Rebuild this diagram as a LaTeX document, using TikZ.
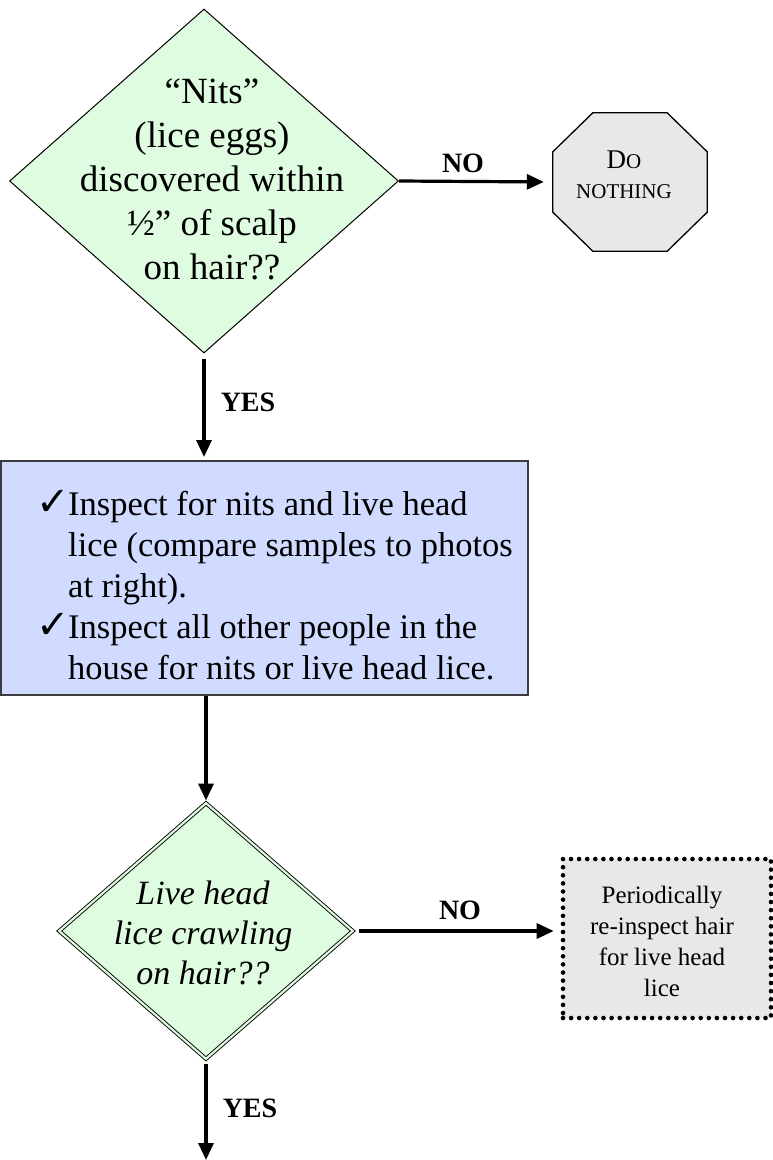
\documentclass[tikz,border=0pt]{standalone}
\usepackage{fontspec}
\setmainfont{Liberation Serif}
\newfontfamily\dejavu{DejaVu Sans}
\usetikzlibrary{shapes.geometric,arrows.meta}
\definecolor{dgreen}{RGB}{224,252,224}
\definecolor{lblue}{RGB}{208,219,255}
\definecolor{lgray}{RGB}{232,232,232}
\definecolor{bordgray}{RGB}{60,60,60}
\newcommand\ckm{\makebox[30pt][l]{\hspace*{-2pt}\dejavu\fontsize{40}{40}\selectfont ✓}}
\newcommand\indt{\hspace*{30pt}}
\tikzset{
  decision/.style={diamond, draw=black, line width=1pt, fill=dgreen, inner sep=0pt},
  decision2/.style={diamond, draw=black, line width=0.9pt, double=dgreen, double distance=2.2pt, fill=dgreen, inner sep=0pt},
  octframe/.style={rectangle, inner sep=0pt},
  octline/.style={draw=black, line width=1.3pt, fill=lgray, line join=miter},
  bluebox/.style={rectangle, draw=bordgray, line width=2pt, fill=lblue, inner sep=0pt},
  dotbox/.style={rectangle, draw=black, line width=4.6pt, line cap=round, dash pattern=on 0pt off 8.1pt, fill=lgray, inner sep=0pt},
  flow/.style={line width=3.2pt, -{Triangle[length=17pt,width=15pt]}},
  lbl/.style={font=\fontsize{28}{30}\selectfont\bfseries, inner sep=0pt},
  qtext/.style={align=center, inner sep=0pt}
}
\begin{document}
\begin{tikzpicture}[x=1pt,y=-1pt]
\useasboundingbox (0,0) rectangle (773,1160);

% first decision
\node[decision, minimum width=389pt, minimum height=344pt] (d1) at (204,181) {};
\node[qtext, font=\fontsize{37}{44}\selectfont] (d1t) at (212,179)
  {“Nits”\\(lice eggs)\\discovered within\\½” of scalp\\on hair??};

% do nothing octagon
\node[octframe, minimum width=154pt, minimum height=138pt] (oct) at (630,182) {};
\path[octline] ([xshift=40pt]oct.north west) -- ([xshift=-40pt]oct.north east)
  -- ([yshift=-39pt]oct.north east) -- ([yshift=39pt]oct.south east)
  -- ([xshift=-40pt]oct.south east) -- ([xshift=40pt]oct.south west)
  -- ([yshift=39pt]oct.south west) -- ([yshift=-39pt]oct.north west) -- cycle;
\node[qtext, font=\fontsize{21}{30}\selectfont] (octt) at (624,175)
  {{\fontsize{27}{30}\selectfont D}O\\NOTHING};

\draw[flow, shorten >=9pt] (d1.east) -- (oct.west);
\node[lbl] (no1) at (463,163) {NO};

% blue box
\node[bluebox, minimum width=527pt, minimum height=234pt] (box) at (264.5,578) {};
\node[anchor=west, align=left, inner sep=0pt, font=\fontsize{34.5}{41}\selectfont] (boxt) at (38,585)
  {\ckm Inspect for nits and live head\\
   \indt lice (compare samples to photos\\
   \indt at right).\\
   \ckm Inspect all other people in the\\
   \indt house for nits or live head lice.};

\draw[flow, shorten <=5pt, shorten >=3pt] (d1.south) -- (d1.south |- box.north);
\node[lbl] (yes1) at (248,402) {YES};

% second decision
\node[decision2, minimum width=294pt, minimum height=256pt] (d2) at (206,931) {};
\node[qtext, font=\fontsize{34}{40}\selectfont\itshape] (d2t) at (203,933)
  {Live head\\lice crawling\\on hair??};

\draw[flow, shorten >=2pt] (box.south -| d2.north) -- (d2.north);

% dotted box
\node[dotbox, minimum width=208pt, minimum height=159pt] (dbox) at (667,938.5) {};
\node[qtext, font=\fontsize{25}{31}\selectfont] (dboxt) at (662,941)
  {Periodically\\re-inspect hair\\for live head\\lice};

\draw[flow, shorten <=6pt, shorten >=7pt] (d2.east) -- (d2.east -| dbox.west);
\node[lbl] (no2) at (460,910) {NO};

% bottom arrow
\coordinate (bend) at (206,1160);
\draw[flow, shorten <=5pt] (d2.south) -- (bend);
\node[lbl] (yes2) at (250,1108) {YES};
\end{tikzpicture}
\end{document}
